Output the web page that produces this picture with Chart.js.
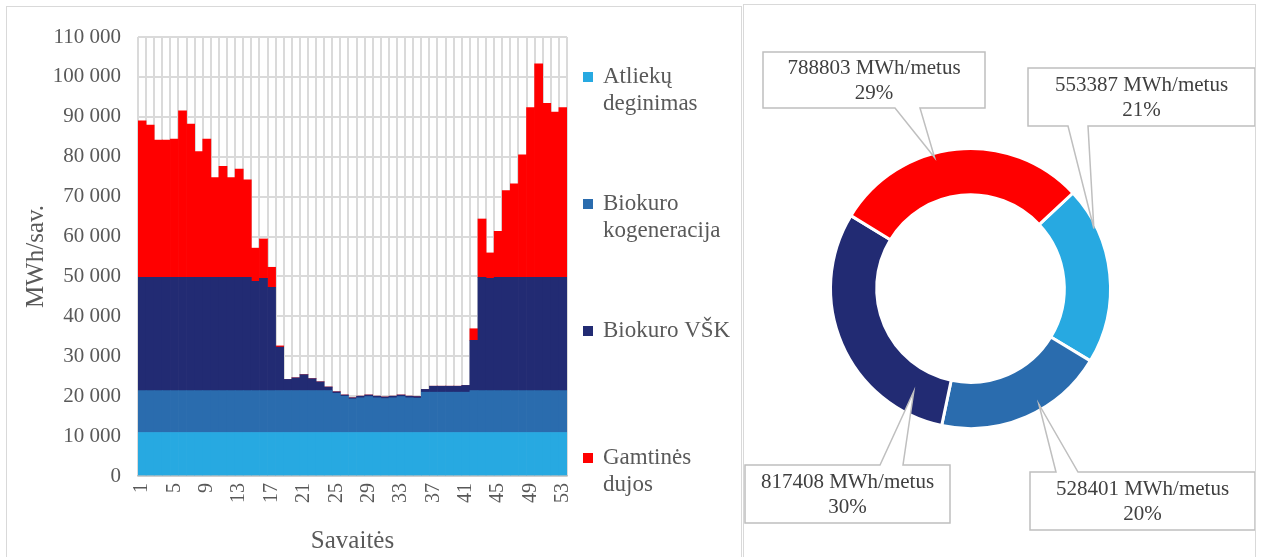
<!DOCTYPE html>
<html>
<head>
<meta charset="utf-8">
<title>Šilumos gamyba</title>
<script src="https://cdn.jsdelivr.net/npm/chart.js@4.4.0/dist/chart.umd.min.js"></script>
<style>
  body { margin: 0; background: #fff; width: 1261px; height: 557px; overflow: hidden; position: relative; }
  .panel { position: absolute; border: 1px solid #d9d9d9; background: #fff; }
  #left { left: 6px; top: 6px; width: 734px; height: 560px; }
  #right { left: 743px; top: 4px; width: 511px; height: 560px; }
  canvas { position: absolute; left: 0; top: 0; }
</style>
</head>
<body>
<div class="panel" id="left"><canvas id="weeklyChart" width="734" height="551"></canvas></div>
<div class="panel" id="right"><canvas id="yearChart" width="511" height="552"></canvas></div>
<script>
  const weeks = [1, 2, 3, 4, 5, 6, 7, 8, 9, 10, 11, 12, 13, 14, 15, 16, 17, 18, 19, 20, 21, 22, 23, 24, 25, 26, 27,
    28, 29, 30, 31, 32, 33, 34, 35, 36, 37, 38, 39, 40, 41, 42, 43, 44, 45, 46, 47, 48, 49, 50, 51, 52, 53];

  const seriesLines = [['Atliekų', 'deginimas'], ['Biokuro', 'kogeneracija'], ['Biokuro VŠK'], ['Gamtinės', 'dujos']];
  const seriesColors = ['#27a9e1', '#2a6cae', '#222b73', '#ff0000'];

  // MWh per week
  const atliekos = [10900, 10900, 10900, 10900, 10900, 10900, 10900, 10900, 10900, 10900, 10900, 10900, 10900, 10900,
    10900, 10900, 10900, 10900, 10900, 10900, 10900, 10900, 10900, 10900, 10900, 10900, 10900, 10900, 10900, 10900,
    10900, 10900, 10900, 10900, 10900, 10900, 10900, 10900, 10900, 10900, 10900, 10900, 10900, 10900, 10900, 10900,
    10900, 10900, 10900, 10900, 10900, 10900, 10900];
  const kogeneracija = [10500, 10500, 10500, 10500, 10500, 10500, 10500, 10500, 10500, 10500, 10500, 10500, 10500,
    10500, 10500, 10500, 10500, 10500, 10500, 10500, 10500, 10500, 10500, 10500, 9800, 9100, 8400, 8700, 9000, 8700,
    8500, 8700, 9000, 8700, 8600, 10100, 10100, 10100, 10100, 10100, 10100, 10500, 10500, 10500, 10500, 10500, 10500,
    10500, 10500, 10500, 10500, 10500, 10500];
  const vsk = [28400, 28400, 28400, 28400, 28400, 28400, 28400, 28400, 28400, 28400, 28400, 28400, 28400, 28400,
    27400, 28100, 25900, 10900, 2800, 3200, 4000, 3000, 2200, 900, 400, 300, 300, 400, 400, 400, 400, 400, 400, 400,
    400, 700, 1500, 1500, 1500, 1500, 1700, 12600, 28400, 28100, 28400, 28400, 28400, 28400, 28400, 28400, 28400,
    28400, 28400];
  const dujos = [39200, 38100, 34400, 34400, 34600, 41700, 38400, 31500, 34600, 25000, 27800, 25000, 27100, 24400,
    8300, 9900, 5000, 300, 0, 0, 0, 0, 0, 0, 0, 0, 0, 0, 0, 0, 0, 0, 0, 0, 0, 0, 0, 0, 0, 0, 0, 2900, 14600, 6400,
    11500, 21700, 23400, 30700, 42500, 53500, 43600, 41400, 42500];

  // MWh per year
  const yearTotals = [553387, 528401, 817408, 788803];

  const serif = '"Liberation Serif", "Times New Roman", serif';
  const textGrey = '#595959';

  function spaced(v) {
    return String(v).replace(/\B(?=(\d{3})+(?!\d))/g, ' ');
  }

  const sideLegend = {
    id: 'sideLegend',
    afterDraw(chart) {
      const { ctx, chartArea } = chart;
      const x = chartArea.right + 16;
      ctx.save();
      ctx.font = '23px ' + serif;
      ctx.textBaseline = 'middle';
      seriesLines.forEach((lines, i) => {
        const y = chartArea.top + 40 + i * 127;
        ctx.fillStyle = seriesColors[i];
        ctx.fillRect(x, y - 5, 10, 10);
        ctx.fillStyle = textGrey;
        lines.forEach((line, j) => ctx.fillText(line, x + 20, y + j * 27));
      });
      ctx.restore();
    }
  };

  new Chart(document.getElementById('weeklyChart'), {
    type: 'bar',
    data: {
      labels: weeks,
      datasets: [atliekos, kogeneracija, vsk, dujos].map((data, i) => ({
        label: seriesLines[i].join(' '),
        data: data,
        backgroundColor: seriesColors[i],
        borderWidth: 0,
        barPercentage: 1,
        categoryPercentage: 1
      }))
    },
    options: {
      responsive: false,
      animation: false,
      devicePixelRatio: 1,
      layout: { padding: { top: 30, right: 174, bottom: 0, left: 0 } },
      scales: {
        x: {
          stacked: true,
          afterFit: scale => { scale.height = 82; },
          grid: { color: '#dadada', lineWidth: 2, drawTicks: false },
          border: { color: '#bfbfbf', width: 1.5 },
          ticks: {
            autoSkip: false,
            minRotation: 90,
            maxRotation: 90,
            padding: 7,
            color: textGrey,
            font: { family: serif, size: 20 },
            callback: function(value, index) {
              return (weeks[index] - 1) % 4 === 0 ? String(weeks[index]) : '';
            }
          },
          title: {
            display: true,
            text: 'Savaitės',
            color: textGrey,
            font: { family: serif, size: 25 },
            padding: { top: 0, bottom: 2 }
          }
        },
        y: {
          stacked: true,
          min: 0,
          max: 110000,
          afterFit: scale => { scale.width = 131; },
          grid: { color: '#dadada', lineWidth: 2, drawTicks: false },
          border: { display: false },
          ticks: {
            stepSize: 10000,
            padding: 17,
            color: textGrey,
            font: { family: serif, size: 21 },
            callback: v => spaced(v)
          },
          title: {
            display: true,
            text: 'MWh/sav.',
            color: textGrey,
            font: { family: serif, size: 25 },
            padding: { top: 14, bottom: 0 }
          }
        }
      },
      plugins: {
        legend: { display: false },
        tooltip: { enabled: false }
      }
    },
    plugins: [sideLegend]
  });

  // callout boxes: [x, y, w, h], pointer base on the box edge, spot on the slice
  const callouts = [
    { box: [284, 63, 227, 58], base: [324, 344], frac: 0.23, rad: 0.98 },
    { box: [286, 467, 225, 58], base: [312, 334], frac: 0.4, rad: 0.96 },
    { box: [1, 460, 205, 58], base: [136, 159], frac: 0.155, rad: 0.84 },
    { box: [19, 47, 222, 56], base: [151, 176], frac: 0.41, rad: 0.97 }
  ];

  const calloutLabels = {
    id: 'calloutLabels',
    afterDraw(chart) {
      const { ctx } = chart;
      const arcs = chart.getDatasetMeta(0).data;
      const values = chart.data.datasets[0].data;
      const total = values.reduce((a, b) => a + b, 0);
      ctx.save();
      callouts.forEach((c, i) => {
        const arc = arcs[i];
        const ang = arc.startAngle + c.frac * (arc.endAngle - arc.startAngle);
        const tipX = arc.x + Math.cos(ang) * arc.outerRadius * c.rad;
        const tipY = arc.y + Math.sin(ang) * arc.outerRadius * c.rad;
        const [x, y, w, h] = c.box;
        const below = tipY > y + h;
        ctx.beginPath();
        if (below) {
          ctx.moveTo(x, y);
          ctx.lineTo(x + w, y);
          ctx.lineTo(x + w, y + h);
          ctx.lineTo(c.base[1], y + h);
          ctx.lineTo(tipX, tipY);
          ctx.lineTo(c.base[0], y + h);
          ctx.lineTo(x, y + h);
        } else {
          ctx.moveTo(x, y);
          ctx.lineTo(c.base[0], y);
          ctx.lineTo(tipX, tipY);
          ctx.lineTo(c.base[1], y);
          ctx.lineTo(x + w, y);
          ctx.lineTo(x + w, y + h);
          ctx.lineTo(x, y + h);
        }
        ctx.closePath();
        ctx.fillStyle = '#fff';
        ctx.fill();
        ctx.strokeStyle = '#bfbfbf';
        ctx.lineWidth = 1.5;
        ctx.stroke();

        ctx.fillStyle = '#404040';
        ctx.font = '21px ' + serif;
        ctx.textAlign = 'center';
        ctx.textBaseline = 'middle';
        ctx.fillText(values[i] + ' MWh/metus', x + w / 2, y + h / 2 - 12);
        ctx.fillText(Math.round(values[i] / total * 100) + '%', x + w / 2, y + h / 2 + 13);
      });
      ctx.restore();
    }
  };

  new Chart(document.getElementById('yearChart'), {
    type: 'doughnut',
    data: {
      labels: seriesLines.map(l => l.join(' ')),
      datasets: [{
        data: yearTotals,
        backgroundColor: seriesColors,
        borderColor: '#fff',
        borderWidth: 3,
        hoverBorderWidth: 3,
        hoverOffset: 0
      }]
    },
    options: {
      responsive: false,
      animation: false,
      devicePixelRatio: 1,
      rotation: 47,
      cutout: '67%',
      layout: { padding: { top: 142, right: 143, bottom: 127, left: 85 } },
      plugins: {
        legend: { display: false },
        tooltip: { enabled: false }
      }
    },
    plugins: [calloutLabels]
  });
</script>
</body>
</html>
